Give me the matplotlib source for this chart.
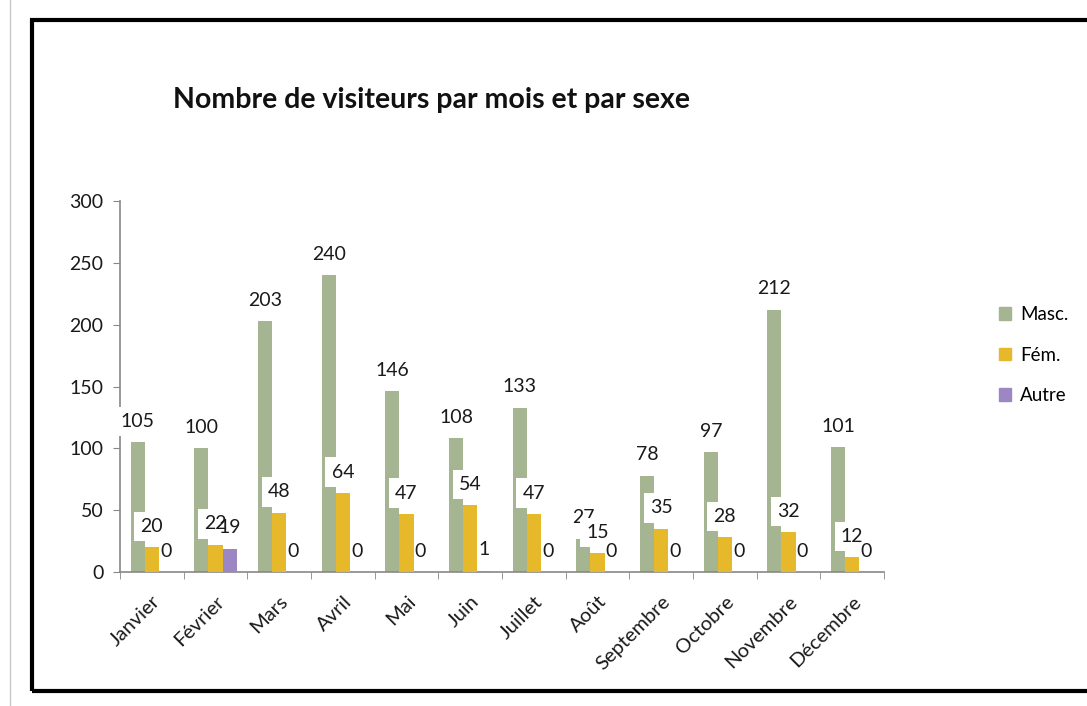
import matplotlib.pyplot as plt
import numpy as np
from matplotlib.patches import Rectangle
from matplotlib.lines import Line2D

# === DATA ===
months = ["Janvier", "Février", "Mars", "Avril", "Mai", "Juin", "Juillet",
          "Août", "Septembre", "Octobre", "Novembre", "Décembre"]
masc = [105, 100, 203, 240, 146, 108, 133, 27, 78, 97, 212, 101]
fem = [20, 22, 48, 64, 47, 54, 47, 15, 35, 28, 32, 12]
autre = [0, 19, 0, 0, 0, 1, 0, 0, 0, 0, 0, 0]
series_names = ["Masc.", "Fém.", "Autre"]
colors = ["#A5B592", "#E6B92B", "#9C86C4"]

plt.rcParams['font.family'] = ['Lato', 'DejaVu Sans']

def main():
    fig = plt.figure(figsize=(10.87, 7.06), dpi=100)
    ax = fig.add_axes([120 / 1087, 1 - 572 / 706, 764 / 1087, 371 / 706])

    x = np.arange(len(months))
    w = 0.22
    all_series = [masc, fem, autre]
    for i, (vals, name, col) in enumerate(zip(all_series, series_names, colors)):
        pos = x + (i - 1) * w
        ax.bar(pos, vals, width=w, color=col, label=name, zorder=2 + 2 * i)
        # the last series' labels have no white box in the original
        box = dict(boxstyle="square,pad=0.32", fc="white", ec="none") if i < 2 else None
        for px, v in zip(pos, vals):
            ax.annotate(str(v), (px, v), xytext=(0, 15), textcoords="offset points",
                        ha="center", va="center", fontsize=14, color="#1a1a1a",
                        zorder=3 + 2 * i, bbox=box)

    ax.set_xlim(-0.5, len(months) - 0.5)
    ax.set_ylim(0, 300)
    ax.set_yticks(range(0, 301, 50))
    ax.tick_params(axis="y", direction="out", length=5, color="#888888",
                   labelsize=14, labelcolor="#1a1a1a", pad=7)
    ax.set_xticks(x)
    ax.set_xticklabels(months, rotation=45, ha="right", rotation_mode="anchor",
                       fontsize=14.5, color="#1a1a1a")
    ax.tick_params(axis="x", which="major", length=0, pad=15)
    ax.set_xticks(np.arange(-0.5, len(months), 1), minor=True)
    ax.tick_params(axis="x", which="minor", direction="out", length=5, color="#888888")

    for s in ["top", "right"]:
        ax.spines[s].set_visible(False)
    for s in ["left", "bottom"]:
        ax.spines[s].set_color("#888888")
        ax.spines[s].set_linewidth(1.2)

    # legend at the right
    handles = [Rectangle((0, 0), 1, 1, color=c) for c in colors]
    fig.legend(handles, series_names, loc="center left",
               bbox_to_anchor=(982 / 1087, 1 - 355 / 706), frameon=False,
               fontsize=13.5, handlelength=0.65, handleheight=0.65,
               handletextpad=0.5, labelspacing=1.25)

    fig.text(173 / 1087, 1 - 100 / 706, "Nombre de visiteurs par mois et par sexe",
             fontsize=20.5, fontweight="bold", ha="left", va="center", color="#111111")

    # thick black frame and thin gray line at left
    fig.add_artist(Rectangle((31.5 / 1087, 1 - 691 / 706), 1.2, (691 - 19.5) / 706,
                             transform=fig.transFigure, fill=False, ec="black",
                             lw=3, clip_on=False))
    fig.add_artist(Line2D([10 / 1087, 10 / 1087], [0, 1], transform=fig.transFigure,
                          color="#c8c8c8", lw=1))

    fig.savefig("out.png", dpi=100)

if __name__ == "__main__":
    main()
